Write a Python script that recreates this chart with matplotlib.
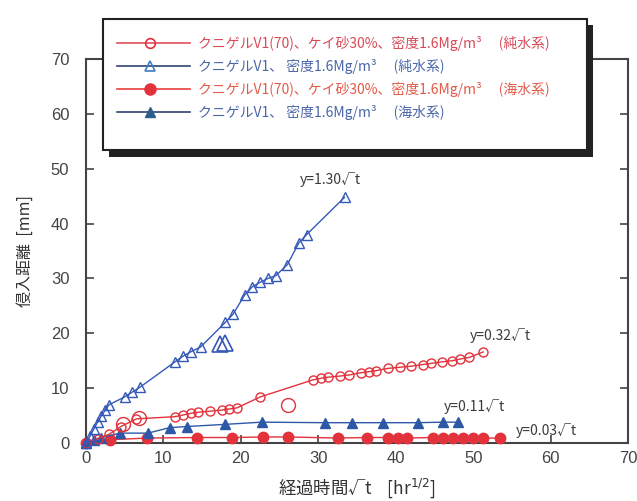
import matplotlib
matplotlib.use('Agg')
import matplotlib.pyplot as plt
from matplotlib.patches import Rectangle
from matplotlib.lines import Line2D

plt.rcParams['font.family'] = ['Noto Sans CJK JP', 'DejaVu Sans']
NUM_FONT = ['Liberation Sans Narrow', 'Liberation Sans', 'DejaVu Sans']

# クニゲルV1 (純水系)
v1_pure_x = [0, 0.5, 1.0, 1.5, 2.0, 2.5, 3.0, 5.0, 6.0, 7.0, 11.5, 12.5, 13.5,
             14.8, 18.0, 19.0, 20.5, 21.5, 22.5, 23.5, 24.5, 26.0, 27.5, 28.5,
             33.4]
v1_pure_y = [0, 1.2, 2.5, 3.8, 5.0, 6.0, 7.0, 8.4, 9.3, 10.2, 14.8, 15.8, 16.6,
             17.5, 22.0, 23.5, 27.0, 28.5, 29.3, 30.0, 30.5, 32.5, 36.5, 38.0,
             44.8]
v1_pure_out_x = [17.3, 18.0]
v1_pure_out_y = [18.0, 18.3]

# クニゲルV1(70)+ケイ砂30% (純水系)
mix_pure_x = [0, 1.5, 3.0, 4.5, 6.5, 11.5, 12.5, 13.5, 14.5, 16.0, 17.5, 18.5,
              19.5, 22.5, 29.3, 30.3, 31.3, 32.8, 34.0, 35.5, 36.5, 37.5, 39.0,
              40.5, 42.0, 43.5, 44.5, 46.0, 47.3, 48.3, 49.5, 51.3]
mix_pure_y = [0, 0.8, 1.6, 3.0, 4.4, 4.8, 5.1, 5.4, 5.6, 5.8, 6.0, 6.2,
              6.4, 8.4, 11.5, 11.8, 12.0, 12.2, 12.4, 12.8, 13.0, 13.2, 13.6,
              13.8, 14.0, 14.3, 14.5, 14.8, 15.0, 15.3, 15.6, 16.6]
mix_pure_out_x = [4.8, 6.8, 26.1]
mix_pure_out_y = [3.4, 4.6, 6.9]

# クニゲルV1 (海水系)
v1_sea_x = [0, 1.0, 2.0, 4.4, 8.0, 10.8, 13.0, 18.0, 22.7, 30.9, 34.4, 38.4,
            42.9, 46.1, 48.0]
v1_sea_y = [0, 0.6, 1.0, 1.8, 1.8, 2.8, 3.0, 3.4, 3.8, 3.7, 3.7, 3.7,
            3.7, 3.8, 3.8]

# クニゲルV1(70)+ケイ砂30% (海水系)
mix_sea_x = [0, 3.1, 7.9, 14.3, 18.9, 22.9, 26.1, 32.5, 36.3, 39.0, 40.3,
             41.5, 44.8, 46.1, 47.4, 48.7, 50.0, 51.3, 53.5]
mix_sea_y = [0, 0.6, 0.9, 1.0, 1.0, 1.1, 1.1, 0.9, 1.0, 1.0, 0.9,
             0.9, 1.0, 1.0, 1.0, 0.9, 0.9, 0.9, 0.9]

fit_labels = ['y=1.30√t', 'y=0.32√t', 'y=0.11√t', 'y=0.03√t']
fit_pos = [(27.6, 48.0), (49.6, 19.6), (46.2, 6.6), (55.5, 2.3)]

legend_labels = ['クニゲルV1(70)、ケイ砂30%、密度1.6Mg/m³　 (純水系)',
                 'クニゲルV1、 密度1.6Mg/m³　 (純水系)',
                 'クニゲルV1(70)、ケイ砂30%、密度1.6Mg/m³　 (海水系)',
                 'クニゲルV1、 密度1.6Mg/m³　 (海水系)']

RED = '#e2323c'
BLUE = '#3558b8'
BLUE_F = '#2d58a8'

fig = plt.figure(figsize=(6.37, 5.01), dpi=100)
ax = fig.add_axes([86 / 637, 1 - 443 / 501, 542 / 637, 384 / 501])

ax.plot(mix_sea_x, mix_sea_y, '-', color=RED, lw=1.0, marker='o', ms=7.5,
        mfc=RED, mec=RED, clip_on=False, zorder=3)
ax.plot(v1_sea_x, v1_sea_y, '-', color=BLUE_F, lw=1.0, marker='^', ms=7.5,
        mfc=BLUE_F, mec=BLUE_F, clip_on=False, zorder=3)
ax.plot(mix_pure_x, mix_pure_y, '-', color=RED, lw=1.0, marker='o', ms=6.5,
        mfc='none', mec=RED, mew=1.0, clip_on=False, zorder=4)
ax.plot(mix_pure_out_x, mix_pure_out_y, 'o', ms=10, mfc='none', mec=RED, mew=1.0,
        zorder=4)
ax.plot(v1_pure_x, v1_pure_y, '-', color=BLUE, lw=1.0, marker='^', ms=7,
        mfc='none', mec=BLUE, mew=1.0, clip_on=False, zorder=5)
ax.plot(v1_pure_out_x, v1_pure_out_y, '^', ms=12, mfc='none', mec=BLUE, mew=1.2,
        zorder=5)

for lab, (tx, ty) in zip(fit_labels, fit_pos):
    ax.text(tx, ty, lab, fontsize=10, color='#3a3a3a', va='center', ha='left',
            zorder=6)

ax.set_xlim(0, 70)
ax.set_ylim(0, 70)
ax.set_xticks(range(0, 71, 10))
ax.set_yticks(range(0, 71, 10))
ax.tick_params(direction='in', length=6, width=1.2, color='#444444',
               top=True, right=True, labelsize=12)
ax.tick_params(axis='y', pad=12)
ax.tick_params(axis='x', pad=6)
for lab in ax.get_xticklabels() + ax.get_yticklabels():
    lab.set_family(NUM_FONT)
    lab.set_color('#444444')
for sp in ax.spines.values():
    sp.set_linewidth(1.5)
    sp.set_color('#444444')

ax.set_xlabel('経過時間√t    [hr$^{1/2}$]', fontsize=12.5, color='#333333',
              labelpad=7)
ax.set_ylabel('侵入距離  [mm]', fontsize=11.5, color='#333333', labelpad=12)

# legend box drawn in pixel space over the whole figure
ov = fig.add_axes([0, 0, 1, 1], zorder=10)
ov.set_xlim(0, 637)
ov.set_ylim(501, 0)
ov.axis('off')
ov.add_patch(Rectangle((109, 25), 484, 132, facecolor='#222222',
                       edgecolor='none'))
ov.add_patch(Rectangle((103, 19), 484, 131, facecolor='white',
                       edgecolor='#222222', lw=1.5))

row_y = [43, 66, 89, 112]
line_cols = ['#e0505c', '#2e4470', '#e8403c', '#2e4470']
text_cols = ['#d84a58', '#4a66a8', '#e25a48', '#4a66a8']
mk = [dict(marker='o', ms=7, mfc='none', mec=RED, mew=1.2),
      dict(marker='^', ms=7, mfc='none', mec='#3f7fc0', mew=1.2),
      dict(marker='o', ms=8, mfc=RED, mec=RED),
      dict(marker='^', ms=7, mfc='#2d5d8a', mec='#2d5d8a')]
for yy, lc, tc, m, lab in zip(row_y, line_cols, text_cols, mk, legend_labels):
    ov.add_line(Line2D([117, 190], [yy, yy], color=lc, lw=1.2))
    ov.add_line(Line2D([150], [yy], **m))
    ov.text(198, yy, lab, fontsize=10, color=tc, va='center', ha='left')

fig.savefig('out.png', dpi=100)
